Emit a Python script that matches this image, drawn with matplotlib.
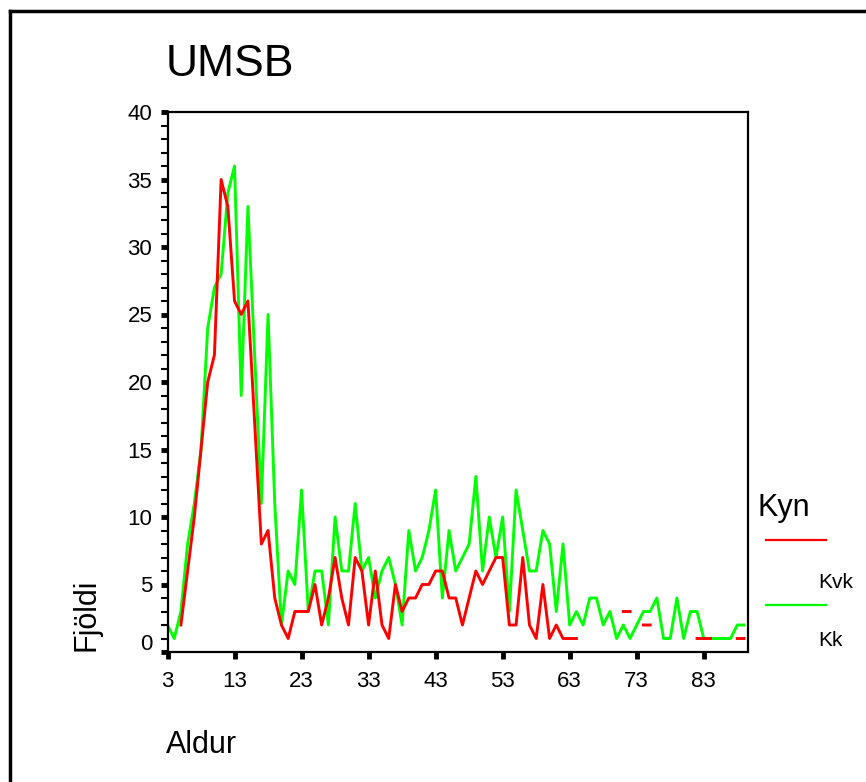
import numpy as np
import matplotlib
matplotlib.use("Agg")
import matplotlib.pyplot as plt
from matplotlib.lines import Line2D
from matplotlib.ticker import MultipleLocator
import matplotlib.transforms as mtransforms

plt.rcParams['font.family'] = ['Liberation Sans', 'DejaVu Sans']

nan = np.nan
ages = list(range(3, 90))

# Kvk (red) - nan where the series is not drawn
kvk = [nan, nan, 2, 6, 10, 15, 20, 22, 35, 33,        # 3-12
       26, 25, 26, 17, 8, 9, 4, 2, 1, 3,              # 13-22
       3, 3, 5, 2, 4, 7, 4, 2, 7, 6,                  # 23-32
       2, 6, 2, 1, 5, 3, 4, 4, 5, 5,                  # 33-42
       6, 6, 4, 4, 2, 4, 6, 5, 6, 7,                  # 43-52
       7, 2, 2, 7, 2, 1, 5, 1, 2, 1,                  # 53-62
       1, 1, nan, nan, nan, nan, nan, nan, nan, nan,  # 63-72
       nan, nan, nan, nan, nan, nan, nan, nan, nan, nan,  # 73-82
       nan, nan, nan, nan, nan, nan, nan]             # 83-89
kvk[71 - 3] = 3
kvk[72 - 3] = 3
kvk[74 - 3] = 2
kvk[75 - 3] = 2
for a in (82, 83, 84, 88, 89):
    kvk[a - 3] = 1

# Kk (green)
kk = [2, 1, 3, 8, 11, 15, 24, 27, 28, 34,        # 3-12
      36, 19, 33, 22, 11, 25, 11, 2, 6, 5,       # 13-22
      12, 3, 6, 6, 2, 10, 6, 6, 11, 6,           # 23-32
      7, 4, 6, 7, 5, 2, 9, 6, 7, 9,              # 33-42
      12, 4, 9, 6, 7, 8, 13, 6, 10, 7,           # 43-52
      10, 3, 12, 9, 6, 6, 9, 8, 3, 8,            # 53-62
      2, 3, 2, 4, 4, 2, 3, 1, 2, 1,              # 63-72
      2, 3, 3, 4, 1, 1, 4, 1, 3, 3,              # 73-82
      1, 1, 1, 1, 1, 2, 2]                       # 83-89

W, H = 866, 782
fig = plt.figure(figsize=(W / 100, H / 100), dpi=100)
ax = fig.add_axes([167.5 / W, 1 - 652 / H, (748 - 167.5) / W, (652 - 112) / H])

ax.plot(ages, kvk, color='#ff0000', lw=2.1, zorder=3)
ax.plot(ages, kk, color='#00ff00', lw=2.1, zorder=2)

ax.set_xlim(3, 89.6)
ax.set_ylim(0, 40)
ax.set_xticks(range(3, 90, 10))
ax.set_yticks(range(0, 41, 5))
ax.yaxis.set_minor_locator(MultipleLocator(1))
for s in ax.spines.values():
    s.set_linewidth(1.6)
ax.tick_params(axis='both', which='major', direction='out', length=5, width=3.5,
               labelsize=16, pad=6)
ax.tick_params(axis='y', which='minor', direction='out', length=5, width=1.5)
ax.tick_params(axis='x', pad=9)

# nudge the "0" label up like the original
lab0 = ax.get_yticklabels()[0]
lab0.set_transform(lab0.get_transform() + mtransforms.ScaledTranslation(0, 10 / 100, fig.dpi_scale_trans))

fig.text(166 / W, 1 - 64 / H, 'UMSB', fontsize=32, va='center', ha='left')
fig.text(166 / W, 1 - 745 / H, 'Aldur', fontsize=22, va='center', ha='left')
fig.text(86 / W, 1 - 615 / H, 'Fjöldi', fontsize=22, va='center', ha='center', rotation=90)

# legend
fig.text(758 / W, 1 - 508 / H, 'Kyn', fontsize=22, va='center', ha='left')
fig.add_artist(Line2D([766 / W, 826 / W], [1 - 540 / H, 1 - 540 / H], color='#ff0000', lw=1.6))
fig.text(818 / W, 1 - 582 / H, 'Kvk', fontsize=15, va='center', ha='left')
fig.add_artist(Line2D([766 / W, 826 / W], [1 - 605 / H, 1 - 605 / H], color='#00ff00', lw=1.6))
fig.text(818 / W, 1 - 641 / H, 'Kk', fontsize=15, va='center', ha='left')

# outer frame (left and top edges visible)
fig.add_artist(Line2D([10 / W, 10 / W], [0, 1 - 11 / H], color='black', lw=2.5))
fig.add_artist(Line2D([10 / W, 1], [1 - 11 / H, 1 - 11 / H], color='black', lw=2.5))

fig.savefig('out.png', dpi=100)
